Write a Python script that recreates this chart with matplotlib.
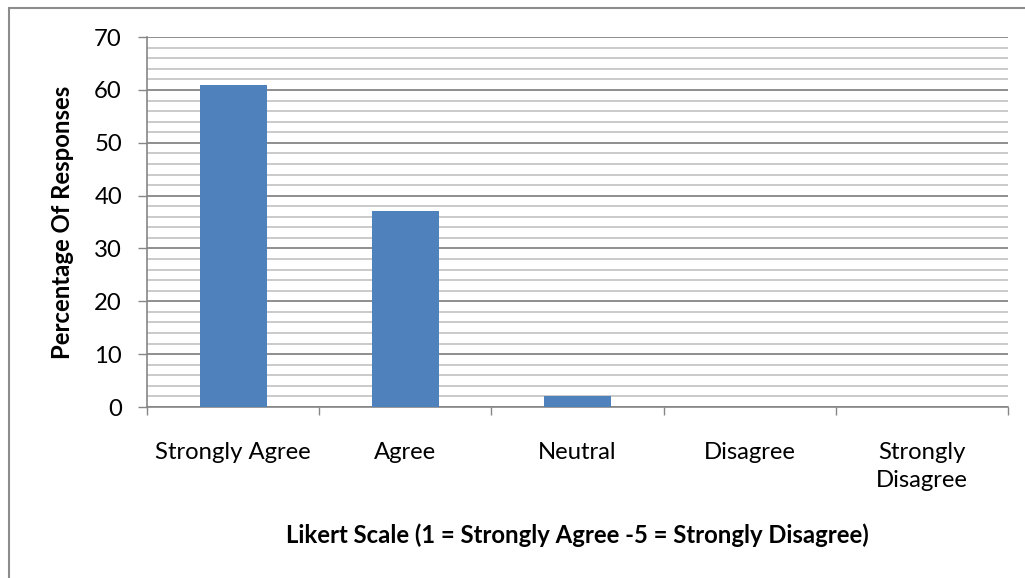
import matplotlib.pyplot as plt
from matplotlib.patches import Rectangle
from matplotlib.ticker import MultipleLocator, FixedLocator, NullFormatter

plt.rcParams['font.family'] = ['Lato', 'DejaVu Sans']

categories = ['Strongly Agree', 'Agree', 'Neutral', 'Disagree', 'Strongly\nDisagree']
percentages = [61, 37, 2, 0, 0]

fs = 17.2

fig = plt.figure(figsize=(10.25, 5.78), dpi=100)
ax = fig.add_axes([0.1434, 0.2958, 0.84, 0.640])

x = list(range(len(categories)))
ax.bar(x, percentages, width=0.39, color='#4f81bd', zorder=3)

ax.set_xlim(-0.5, len(categories) - 0.5)
ax.set_ylim(0, 70)

# gridlines: major every 10, minor every 2
ax.yaxis.set_major_locator(MultipleLocator(10))
ax.yaxis.set_minor_locator(MultipleLocator(2))
ax.grid(axis='y', which='major', color='#868686', linewidth=1.3, zorder=0)
ax.grid(axis='y', which='minor', color='#c6c6c6', linewidth=1.3, zorder=0)
ax.tick_params(axis='y', which='major', length=6.5, width=1, color='#868686',
               labelsize=fs, pad=11.5)
ax.tick_params(axis='y', which='minor', length=0)

# x ticks at category boundaries, labels centred under bars
ax.xaxis.set_major_locator(FixedLocator([i - 0.5 for i in range(len(categories) + 1)]))
ax.xaxis.set_major_formatter(NullFormatter())
ax.xaxis.set_minor_locator(FixedLocator(x))
ax.set_xticklabels(categories, minor=True)
ax.tick_params(axis='x', which='major', length=6, width=1, color='#868686')
ax.tick_params(axis='x', which='minor', length=0, labelsize=fs, pad=25)
for lbl in ax.get_xticklabels(minor=True):
    lbl.set_verticalalignment('top')
    lbl.set_linespacing(1.4)

for s in ['top', 'right']:
    ax.spines[s].set_visible(False)
for s in ['left', 'bottom']:
    ax.spines[s].set_color('#868686')
    ax.spines[s].set_linewidth(1.2)

ax.set_ylabel('Percentage Of Responses', fontsize=fs, fontweight='bold', va='center')
ax.yaxis.set_label_coords(-0.098, 0.5)
ax.set_xlabel('Likert Scale (1 = Strongly Agree -5 = Strongly Disagree)',
              fontsize=fs, fontweight='bold', va='baseline')
ax.xaxis.set_label_coords(0.5, -0.3676)

# chart border
fig.patches.append(Rectangle((0.009, -0.1), 1.2, 1.1 - 0.014, transform=fig.transFigure,
                             fill=False, edgecolor='#8c8c8c', linewidth=1.5))

fig.savefig('out.png', dpi=100)
